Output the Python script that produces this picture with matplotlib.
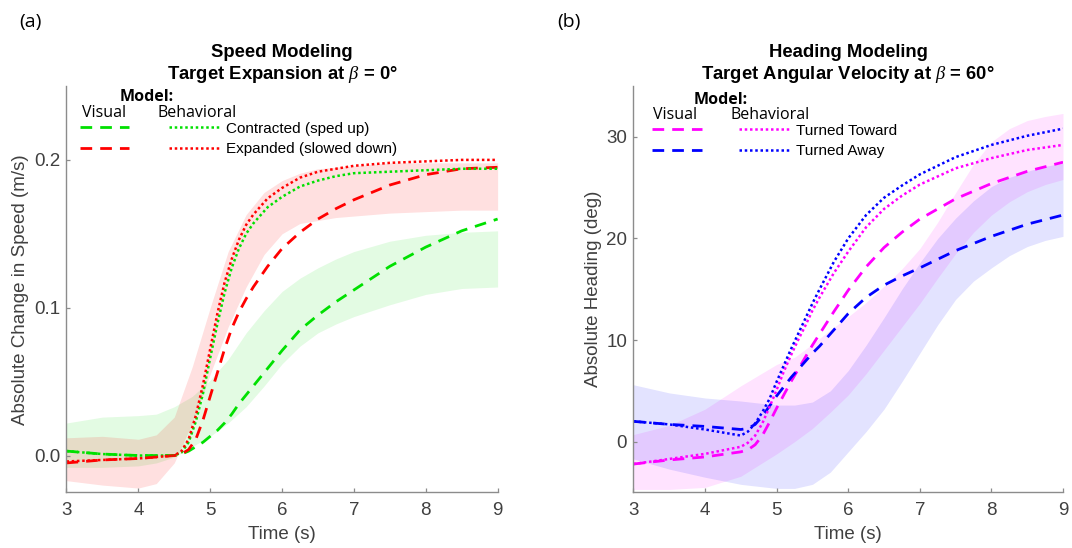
import matplotlib
matplotlib.use('Agg')
import matplotlib.pyplot as plt
import numpy as np

plt.rcParams['font.family'] = ['Liberation Sans', 'DejaVu Sans']
plt.rcParams['mathtext.fontset'] = 'custom'
plt.rcParams['mathtext.it'] = 'Liberation Serif:italic'
plt.rcParams['mathtext.rm'] = 'Liberation Sans'

# ---------------- data: panel (a) speed modeling
t_a = [3.0, 3.5, 4.0, 4.5, 4.6, 4.7, 4.8, 4.9, 5.0, 5.1, 5.2, 5.3, 5.4, 5.5, 5.6,
       5.8, 6.0, 6.25, 6.5, 6.75, 7.0, 7.5, 8.0, 8.5, 9.0]
vis_contracted = [0.003, 0.001, 0.000, 0.000, 0.001, 0.003, 0.006, 0.009, 0.013, 0.017,
                  0.022, 0.028, 0.035, 0.041, 0.047, 0.059, 0.071, 0.085, 0.095, 0.104,
                  0.112, 0.128, 0.141, 0.152, 0.160]
beh_contracted = [0.003, 0.001, 0.000, 0.000, 0.002, 0.009, 0.023, 0.042, 0.066, 0.089,
                  0.110, 0.127, 0.140, 0.150, 0.157, 0.168, 0.175, 0.182, 0.186, 0.189,
                  0.191, 0.192, 0.193, 0.194, 0.194]
vis_expanded = [-0.005, -0.003, -0.002, 0.000, 0.001, 0.004, 0.011, 0.024, 0.040, 0.056,
                0.072, 0.086, 0.097, 0.106, 0.114, 0.128, 0.140, 0.151, 0.160, 0.167,
                0.173, 0.183, 0.190, 0.194, 0.195]
beh_expanded = [-0.004, -0.003, -0.002, 0.000, 0.003, 0.011, 0.027, 0.048, 0.072, 0.096,
                0.117, 0.133, 0.146, 0.156, 0.163, 0.174, 0.181, 0.188, 0.192, 0.194,
                0.196, 0.198, 0.199, 0.200, 0.200]

tb_a = [3.0, 3.5, 4.0, 4.25, 4.5, 4.75, 5.0, 5.25, 5.5, 5.75, 6.0, 6.25, 6.5, 6.75, 7.0,
        7.5, 8.0, 8.5, 9.0]
contracted_hi = [0.022, 0.026, 0.027, 0.028, 0.033, 0.040, 0.051, 0.065, 0.083, 0.098,
                 0.111, 0.120, 0.127, 0.133, 0.138, 0.145, 0.149, 0.151, 0.152]
contracted_lo = [-0.008, -0.008, -0.007, -0.005, -0.001, 0.006, 0.013, 0.022, 0.033,
                 0.047, 0.062, 0.074, 0.083, 0.089, 0.094, 0.102, 0.109, 0.113, 0.114]
expanded_hi = [0.012, 0.013, 0.011, 0.014, 0.026, 0.060, 0.100, 0.138, 0.163, 0.178,
               0.186, 0.191, 0.194, 0.195, 0.196, 0.198, 0.198, 0.198, 0.198]
expanded_lo = [-0.017, -0.020, -0.022, -0.019, -0.005, 0.022, 0.055, 0.087, 0.114, 0.136,
               0.150, 0.157, 0.159, 0.161, 0.162, 0.164, 0.165, 0.166, 0.166]

# ---------------- data: panel (b) heading modeling
t_b = t_a
vis_toward = [-2.2, -1.8, -1.5, -1.0, -0.8, -0.3, 0.6, 1.9, 3.3, 4.6, 5.9, 7.1, 8.3, 9.5,
              10.6, 12.8, 14.9, 17.2, 19.1, 20.6, 21.9, 23.9, 25.4, 26.6, 27.5]
beh_toward = [-2.2, -1.7, -1.2, -0.5, -0.1, 0.6, 1.8, 3.4, 5.1, 6.9, 8.5, 10.0, 11.4, 12.9,
              14.2, 16.6, 18.7, 21.1, 22.9, 24.2, 25.3, 26.9, 27.9, 28.7, 29.2]
vis_away = [2.0, 1.7, 1.5, 1.2, 1.3, 1.7, 2.5, 3.5, 4.5, 5.4, 6.3, 7.1, 7.9, 8.7, 9.4,
            11.0, 12.6, 14.2, 15.4, 16.3, 17.1, 18.8, 20.2, 21.4, 22.3]
beh_away = [2.0, 1.7, 1.2, 0.6, 1.0, 1.8, 2.9, 4.2, 5.9, 7.5, 9.1, 10.6, 12.1, 13.6, 15.0,
            17.7, 20.0, 22.3, 24.0, 25.2, 26.3, 28.0, 29.2, 30.1, 30.8]

tb_b = [3.0, 3.5, 4.0, 4.5, 5.0, 5.25, 5.5, 5.75, 6.0, 6.25, 6.5, 6.75, 7.0, 7.25, 7.5,
        7.75, 8.0, 8.25, 8.5, 8.75, 9.0]
toward_hi = [0.7, 1.6, 3.2, 5.5, 7.6, 8.3, 9.6, 11.0, 12.3, 13.7, 15.3, 17.0, 19.0, 21.6,
             24.5, 27.3, 29.5, 30.8, 31.6, 32.0, 32.3]
toward_lo = [-4.7, -4.7, -4.5, -3.4, -1.2, 0.0, 1.3, 2.9, 4.6, 6.7, 9.0, 11.3, 13.6, 16.1,
             18.5, 20.6, 22.3, 23.6, 24.6, 25.3, 25.8]
away_hi = [5.6, 4.8, 4.3, 4.0, 3.6, 3.6, 3.9, 5.0, 7.0, 9.5, 12.2, 15.0, 17.6, 20.0, 22.0,
           23.7, 25.1, 26.0, 26.6, 27.1, 27.4]
away_lo = [-1.7, -2.7, -3.5, -4.2, -4.6, -4.6, -4.2, -3.0, -1.0, 1.0, 3.2, 5.9, 8.7, 11.5,
           14.0, 15.8, 17.1, 18.3, 19.2, 19.8, 20.2]

GREEN, RED, MAGENTA, BLUE = '#00e000', '#ff0000', '#ff00ff', '#0000ff'
AXCOL = '#8c8c8c'
TXTCOL = '#404040'
DASH = (0, (4.2, 2.9))
DOT = (0, (1, 1.1))
LEGSIZE = 11
HDRSIZE = 11.5

fig = plt.figure(figsize=(10.72, 5.48), dpi=100)
ax1 = fig.add_axes([0.0620, 0.1013, 0.4022, 0.7418])
ax2 = fig.add_axes([0.5909, 0.1013, 0.4007, 0.7418])


def style_axes(ax):
    for s in ['top', 'right']:
        ax.spines[s].set_visible(False)
    for s in ['left', 'bottom']:
        ax.spines[s].set_color(AXCOL)
        ax.spines[s].set_linewidth(1.0)
    ax.tick_params(direction='in', length=3, width=0.9, color=AXCOL,
                   labelcolor=TXTCOL, labelsize=13.5)
    ax.tick_params(axis='x', pad=7)
    ax.tick_params(axis='y', pad=4.5)
    ax.set_xlim(3, 9)
    ax.set_xticks([3, 4, 5, 6, 7, 8, 9])
    ax.set_xlabel('Time (s)', fontsize=13.5, color=TXTCOL)
    ax.xaxis.set_label_coords(0.5, -0.083)


def model_header(ax, xm, ym, xv, xb, yv):
    ax.text(xm, ym, 'Model:', transform=ax.transAxes, fontsize=HDRSIZE,
            fontweight='bold', family='Open Sans', va='center')
    ax.text(xv, yv, 'Visual', transform=ax.transAxes, fontsize=HDRSIZE,
            family='Open Sans', va='center')
    ax.text(xb, yv, 'Behavioral', transform=ax.transAxes, fontsize=HDRSIZE,
            family='Open Sans', va='center')


# ---------------- panel (a)
ax1.fill_between(tb_a, contracted_lo, contracted_hi, color=GREEN, alpha=0.11, lw=0)
ax1.fill_between(tb_a, expanded_lo, expanded_hi, color=RED, alpha=0.12, lw=0)
l1, = ax1.plot(t_a, vis_contracted, color=GREEN, lw=2, ls=DASH)
l2, = ax1.plot(t_a, vis_expanded, color=RED, lw=2, ls=DASH)
l3, = ax1.plot(t_a, beh_contracted, color=GREEN, lw=1.8, ls=DOT)
l4, = ax1.plot(t_a, beh_expanded, color=RED, lw=1.8, ls=DOT)
style_axes(ax1)
ax1.set_ylim(-0.025, 0.25)
ax1.set_yticks([0, 0.1, 0.2])
ax1.set_yticklabels(['0.0', '0.1', '0.2'])
ax1.set_ylabel('Absolute Change in Speed (m/s)', fontsize=13.5, color=TXTCOL)
ax1.yaxis.set_label_coords(-0.087, 0.5)
ax1.set_title('Speed Modeling\nTarget Expansion at $\\beta$ = 0°',
              fontsize=13.3, fontweight='bold', pad=5)
ax1.legend([l1, l2, l3, l4], ['', '', 'Contracted (sped up)', 'Expanded (slowed down)'],
           ncol=2, frameon=False, loc='upper left', bbox_to_anchor=(0.031, 0.912),
           borderpad=0, borderaxespad=0, handlelength=3.25, handletextpad=0.5,
           columnspacing=2.1, labelspacing=0.4, prop={'size': LEGSIZE})
model_header(ax1, 0.124, 0.974, 0.036, 0.210, 0.934)

# ---------------- panel (b)
ax2.fill_between(tb_b, toward_lo, toward_hi, color=MAGENTA, alpha=0.11, lw=0)
ax2.fill_between(tb_b, away_lo, away_hi, color=BLUE, alpha=0.11, lw=0)
m1, = ax2.plot(t_b, vis_toward, color=MAGENTA, lw=2, ls=DASH)
m2, = ax2.plot(t_b, vis_away, color=BLUE, lw=2, ls=DASH)
m3, = ax2.plot(t_b, beh_toward, color=MAGENTA, lw=1.8, ls=DOT)
m4, = ax2.plot(t_b, beh_away, color=BLUE, lw=1.8, ls=DOT)
style_axes(ax2)
ax2.set_ylim(-5, 35)
ax2.set_yticks([0, 10, 20, 30])
ax2.set_ylabel('Absolute Heading (deg)', fontsize=13.5, color=TXTCOL)
ax2.yaxis.set_label_coords(-0.073, 0.5)
ax2.set_title('Heading Modeling\nTarget Angular Velocity at $\\beta$ = 60°',
              fontsize=13.3, fontweight='bold', pad=5)
ax2.legend([m1, m2, m3, m4], ['', '', 'Turned Toward', 'Turned Away'],
           ncol=2, frameon=False, loc='upper left', bbox_to_anchor=(0.043, 0.907),
           borderpad=0, borderaxespad=0, handlelength=3.3, handletextpad=0.45,
           columnspacing=1.95, labelspacing=0.4, prop={'size': LEGSIZE})
model_header(ax2, 0.139, 0.966, 0.046, 0.225, 0.929)

fig.text(0.0177, 0.96, '(a)', fontsize=14, family='Open Sans', va='center')
fig.text(0.5196, 0.96, '(b)', fontsize=14, family='Open Sans', va='center')

fig.savefig('out.png', dpi=100)
